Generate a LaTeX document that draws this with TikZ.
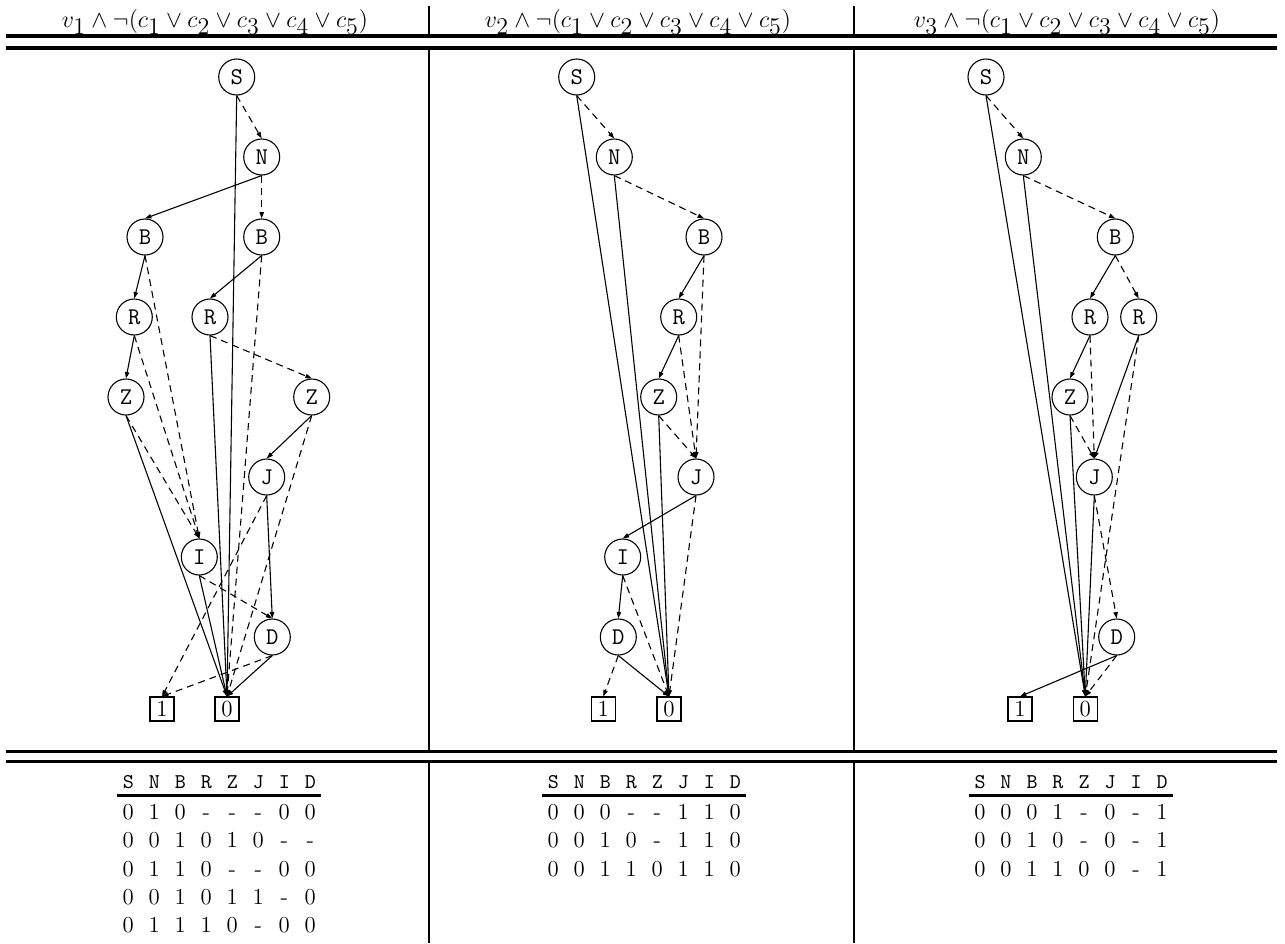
\documentclass[tikz,border=0pt]{standalone}
\usepackage{amsmath}
\usetikzlibrary{arrows.meta}

\begin{document}
\begin{tikzpicture}[x=0.5pt,y=-0.5pt,
  var/.style={circle,draw,line width=0.55pt,minimum size=18pt,inner sep=0pt,font=\ttfamily\fontsize{12}{14}\selectfont},
  leaf/.style={rectangle,draw,line width=0.55pt,minimum size=12pt,inner sep=0pt,font=\fontsize{11.5}{13}\selectfont},
  hiedge/.style={line width=0.55pt,-{Triangle[length=3.2pt,width=2.2pt]}},
  loedge/.style={hiedge,dash pattern=on 3.5pt off 2.5pt},
  dblrule/.style={line width=1.7pt},
  colsep/.style={line width=1.3pt},
  headrule/.style={line width=1.3pt},
  title/.style={anchor=base,font=\fontsize{13}{15}\selectfont},
  head/.style={anchor=base,inner sep=0pt,font=\ttfamily\fontsize{10.5}{12}\selectfont},
  cell/.style={anchor=base,inner sep=0pt,font=\fontsize{11.4}{13}\selectfont}]
\newcommand{\formula}[1]{$v_{\textstyle #1}\wedge\neg(c_{\textstyle 1}\vee c_{\textstyle 2}\vee c_{\textstyle 3}\vee c_{\textstyle 4}\vee c_{\textstyle 5})$}
\useasboundingbox (0,0) rectangle (1285,943);
% frame of the table
\draw[dblrule] (6,35.8) -- (1277,35.8) (6,47.8) -- (1277,47.8);
\draw[dblrule] (6,751.7) -- (1277,751.7) (6,761.7) -- (1277,761.7);
\foreach \x in {429,854}{\draw[colsep] (\x,6) -- (\x,35) (\x,48.6) -- (\x,751) (\x,762.5) -- (\x,943);}
\node[title] (h1) at (215,27.5) {\formula{1}};
\node[title] (h2) at (638,27.5) {\formula{2}};
\node[title] (h3) at (1067,27.5) {\formula{3}};
% first diagram
\node[var] (aS) at (236.7,77) {S};
\node[var] (aN) at (261.7,157) {N};
\node[var] (aB1) at (145,237) {B};
\node[var] (aB2) at (261.7,237) {B};
\node[var] (aR1) at (134.3,317) {R};
\node[var] (aR2) at (210,317) {R};
\node[var] (aZ1) at (126,397) {Z};
\node[var] (aZ2) at (311.7,397) {Z};
\node[var] (aJ) at (266.7,477) {J};
\node[var] (aI) at (199.3,557) {I};
\node[var] (aD) at (272.3,637) {D};
\node[leaf] (a1) at (162,709) {1};
\node[leaf] (a0) at (227,709) {0};
\foreach \u/\v in {aS/a0,aN/aB1,aB1/aR1,aB2/aR2,aR1/aZ1,aR2/a0,aZ1/a0,aZ2/aJ,aJ/aD,aI/a0,aD/a0}
  \draw[hiedge] (\u.south) -- (\v.north);
\foreach \u/\v in {aS/aN,aN/aB2,aB1/aI,aB2/a0,aR1/aI,aR2/aZ2,aZ1/aI,aZ2/a0,aJ/a1,aI/aD,aD/a1}
  \draw[loedge] (\u.south) -- (\v.north);
% second diagram
\node[var] (bS) at (576.7,77) {S};
\node[var] (bN) at (614.3,157) {N};
\node[var] (bB) at (704,237) {B};
\node[var] (bR) at (678.7,317) {R};
\node[var] (bZ) at (658.7,397) {Z};
\node[var] (bJ) at (696,477) {J};
\node[var] (bI) at (622.7,557) {I};
\node[var] (bD) at (618.3,637) {D};
\node[leaf] (b1) at (603.3,709) {1};
\node[leaf] (b0) at (669,709) {0};
\foreach \u/\v in {bS/b0,bN/b0,bB/bR,bR/bZ,bZ/b0,bJ/bI,bI/bD,bD/b0}
  \draw[hiedge] (\u.south) -- (\v.north);
\foreach \u/\v in {bS/bN,bN/bB,bB/bJ,bR/bJ,bZ/bJ,bJ/b0,bI/b0,bD/b1}
  \draw[loedge] (\u.south) -- (\v.north);
% third diagram
\node[var] (cS) at (986,77) {S};
\node[var] (cN) at (1023.3,157) {N};
\node[var] (cB) at (1115.3,237) {B};
\node[var] (cR1) at (1090,317) {R};
\node[var] (cR2) at (1138.7,317) {R};
\node[var] (cZ) at (1070,397) {Z};
\node[var] (cJ) at (1094.3,477) {J};
\node[var] (cD) at (1116.7,637) {D};
\node[leaf] (c1) at (1020,709) {1};
\node[leaf] (c0) at (1085.3,709) {0};
\foreach \u/\v in {cS/c0,cN/c0,cB/cR1,cR1/cZ,cR2/cJ,cZ/c0,cJ/c0,cD/c1}
  \draw[hiedge] (\u.south) -- (\v.north);
\foreach \u/\v in {cS/cN,cN/cB,cB/cR2,cR1/cJ,cR2/c0,cZ/cJ,cJ/cD,cD/c0}
  \draw[loedge] (\u.south) -- (\v.north);
% solution tables
\foreach \t/\xo/\rows in {1/128.3/{{0,1,0,-,-,-,0,0},{0,0,1,0,1,0,-,-},{0,1,1,0,-,-,0,0},{0,0,1,0,1,1,-,0},{0,1,1,1,0,-,0,0}},
    2/553.3/{{0,0,0,-,-,1,1,0},{0,0,1,0,-,1,1,0},{0,0,1,1,0,1,1,0}},
    3/980/{{0,0,0,1,-,0,-,1},{0,0,1,0,-,0,-,1},{0,0,1,1,0,0,-,1}}}{
  \begin{scope}[shift={(\xo,0)}]
  \foreach \c [count=\i] in {S,N,B,R,Z,J,I,D}
    \node[head] (t\t h\i) at ({26*(\i-1)},788.5) {\c};
  \draw[headrule] (-11,795.5) -- (193,795.5);
  \foreach \r [count=\j] in \rows
    \foreach \c [count=\i] in \r
      \node[cell] (t\t r\j c\i) at ({26*(\i-1)},{819.5+28.3*(\j-1)}) {\c};
  \end{scope}}
\end{tikzpicture}
\end{document}
